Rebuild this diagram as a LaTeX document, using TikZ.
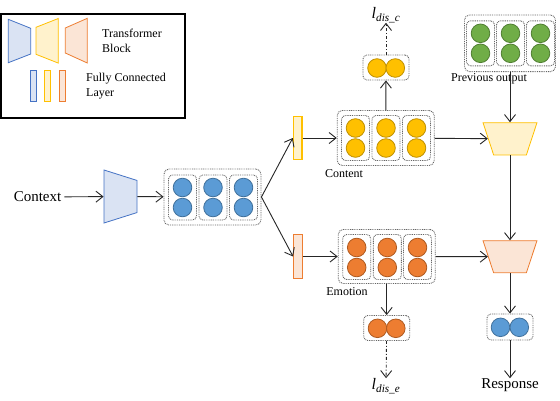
\documentclass[tikz,border=0pt]{standalone}
\usepackage{fontspec}
\setmainfont{Liberation Serif}
\usetikzlibrary{shapes.geometric,arrows.meta}
\definecolor{bdraw}{HTML}{4472C4}
\definecolor{bfill}{HTML}{DAE3F3}
\definecolor{ydraw}{HTML}{FFC000}
\definecolor{yfill}{HTML}{FFF2CC}
\definecolor{odraw}{HTML}{ED7D31}
\definecolor{ofill}{HTML}{FBE5D6}
\tikzset{
	arr/.style={-{Straight Barb[length=7pt,width=11pt]}, line width=0.9pt, black!85},
	group/.style={draw=black!60, line width=0.9pt, dash pattern=on 0.9pt off 0.9pt, rounded corners=5pt},
	cell/.style={group, rounded corners=4pt, minimum width=28pt, minimum height=45pt},
	unit/.style={circle, minimum size=18.6pt, line width=0.8pt},
	bunit/.style={unit, fill={rgb,255:red,91;green,155;blue,213}, draw={rgb,255:red,65;green,113;blue,156}},
	yunit/.style={unit, fill={rgb,255:red,255;green,192;blue,0}, draw={rgb,255:red,191;green,144;blue,0}},
	ounit/.style={unit, fill={rgb,255:red,237;green,125;blue,49}, draw={rgb,255:red,174;green,90;blue,33}},
	gunit/.style={unit, fill={rgb,255:red,112;green,173;blue,71}, draw={rgb,255:red,80;green,126;blue,50}},
	trans/.style={trapezium, trapezium stretches, trapezium left angle=72, trapezium right angle=72, inner sep=2pt, line width=0.8pt},
	fc/.style={line width=1.2pt, minimum width=8.7pt, minimum height=43.3pt}
}
\begin{document}
\begin{tikzpicture}[x=1pt, y=-1pt, every node/.style={inner sep=0pt}]
	\useasboundingbox (0,0) rectangle (560,400);
	\node[draw, line width=1.2pt, minimum width=184pt, minimum height=104pt] (legend) at (93,66) {};
	\draw[draw=bdraw, fill=bfill, line width=0.8pt] (8.3,19.3) -- (30.7,28.3) -- (30.7,54) -- (8.3,62.7) -- cycle;
	\draw[draw=ydraw, fill=yfill, line width=0.8pt] (36,27.3) -- (58.3,18.5) -- (58.3,63.1) -- (36,54.3) -- cycle;
	\draw[draw=odraw, fill=ofill, line width=0.8pt] (65.3,28) -- (87.3,18.3) -- (87.3,63) -- (65.3,53) -- cycle;
	\draw[draw=bdraw, fill=bfill, line width=1pt] (30,70) rectangle (36,101.7);
	\draw[draw=ydraw, fill=yfill, line width=1pt] (44,70) rectangle (50.7,101.7);
	\draw[draw=odraw, fill=ofill, line width=1pt] (59.3,70) rectangle (65.3,101.7);
	\node[anchor=west, align=left, font=\fontsize{12}{15}\selectfont] (ltrans) at (102,40.5) {Transformer\\Block};
	\node[anchor=west, align=left, font=\fontsize{12}{15}\selectfont] (lfc) at (86,86) {Fully Connected\\Layer};

	\node[font=\fontsize{15}{18}\selectfont] (ctxt) at (37.5,197) {Context};
	\node[trans, rotate=-90, minimum width=53pt, minimum height=33pt, draw=bdraw, fill=bfill] (btrans) at (120.5,196.5) {};
	\node[group, minimum width=97pt, minimum height=56pt] (ctx) at (212.5,197) {};
	\foreach \x [count=\i] in {182.5,213,243.5} {
		\node[cell] (bc\i) at (\x,197.5) {};
		\node[bunit] (bu\i-1) at (\x,187.5) {};
		\node[bunit] (bu\i-2) at (\x,207.5) {};
	}

	\node[fc, draw=ydraw, fill=yfill] (yfc) at (297.7,138) {};
	\node[fc, draw=odraw, fill=ofill] (ofc) at (298,256.5) {};

	\node[group, minimum width=97pt, minimum height=55pt] (content) at (385.7,138) {};
	\foreach \x [count=\i] in {355.5,386,416.5} {
		\node[cell] (cc\i) at (\x,138) {};
		\node[yunit] (cu\i-1) at (\x,128) {};
		\node[yunit] (cu\i-2) at (\x,148) {};
	}
	\node[font=\fontsize{12}{14}\selectfont] (lcontent) at (344,173.5) {Content};

	\node[group, minimum width=97pt, minimum height=54pt] (emotion) at (386.7,256.5) {};
	\foreach \x [count=\i] in {356.7,387.3,417.5} {
		\node[cell] (ec\i) at (\x,257) {};
		\node[ounit] (eu\i-1) at (\x,247.5) {};
		\node[ounit] (eu\i-2) at (\x,267.5) {};
	}
	\node[font=\fontsize{12}{14}\selectfont] (lemotion) at (347,292) {Emotion};

	\node[group, rounded corners=4pt, minimum width=46pt, minimum height=25pt] (csmall) at (386,67.5) {};
	\node[yunit] (cs1) at (377,68) {};
	\node[yunit] (cs2) at (395.3,68) {};
	\node[font=\fontsize{16}{18}\selectfont] (ldisc) at (386,15) {\textit{l}\textsubscript{\textit{dis\_c}}};

	\node[group, rounded corners=4pt, minimum width=46pt, minimum height=25pt] (esmall) at (386.7,328) {};
	\node[ounit] (es1) at (377.5,328.3) {};
	\node[ounit] (es2) at (395.8,328.3) {};
	\node[font=\fontsize{16}{18}\selectfont] (ldise) at (386,386) {\textit{l}\textsubscript{\textit{dis\_e}}};

	\node[group, minimum width=91pt, minimum height=56.7pt] (prev) at (510,43.3) {};
	\foreach \x [count=\i] in {480.5,510.5,540.5} {
		\node[cell] (pc\i) at (\x,43.3) {};
		\node[gunit] (pu\i-1) at (\x,33.3) {};
		\node[gunit] (pu\i-2) at (\x,53.3) {};
	}
	\node[font=\fontsize{12}{14}\selectfont] (lprev) at (489,79) {Previous output};

	\node[trans, rotate=180, minimum width=54pt, minimum height=32.3pt, draw=ydraw, fill=yfill] (ytrans) at (510,138.8) {};
	\node[trans, rotate=180, minimum width=54pt, minimum height=32pt, draw=odraw, fill=ofill] (otrans) at (510,256.7) {};

	\node[group, rounded corners=4pt, minimum width=46pt, minimum height=26pt] (resp) at (510,327) {};
	\node[bunit] (ru1) at (500.5,327.3) {};
	\node[bunit] (ru2) at (519.3,327.3) {};
	\node[font=\fontsize{15}{18}\selectfont] (rtext) at (510,385) {Response};

	\draw[arr, shorten <=3pt] (ctxt) -- (btrans);
	\draw[arr] (btrans) -- (ctx);
	\draw[arr] (ctx.east) -- (yfc.west);
	\draw[arr] (ctx.east) -- (ofc.west);
	\draw[arr] (yfc) -- (content);
	\draw[arr] (ofc) -- (emotion);
	\draw[arr] (content) -- (csmall);
	\draw[arr, dash dot] (csmall) -- (ldisc);
	\draw[arr] (emotion) -- (esmall);
	\draw[arr, dash dot] (esmall) -- (ldise);
	\draw[arr] (content) -- (ytrans);
	\draw[arr] (emotion) -- (otrans);
	\draw[arr] (prev) -- (ytrans);
	\draw[arr] (ytrans) -- (otrans);
	\draw[arr] (otrans) -- (resp);
	\draw[arr] (resp) -- (rtext);
\end{tikzpicture}
\end{document}
